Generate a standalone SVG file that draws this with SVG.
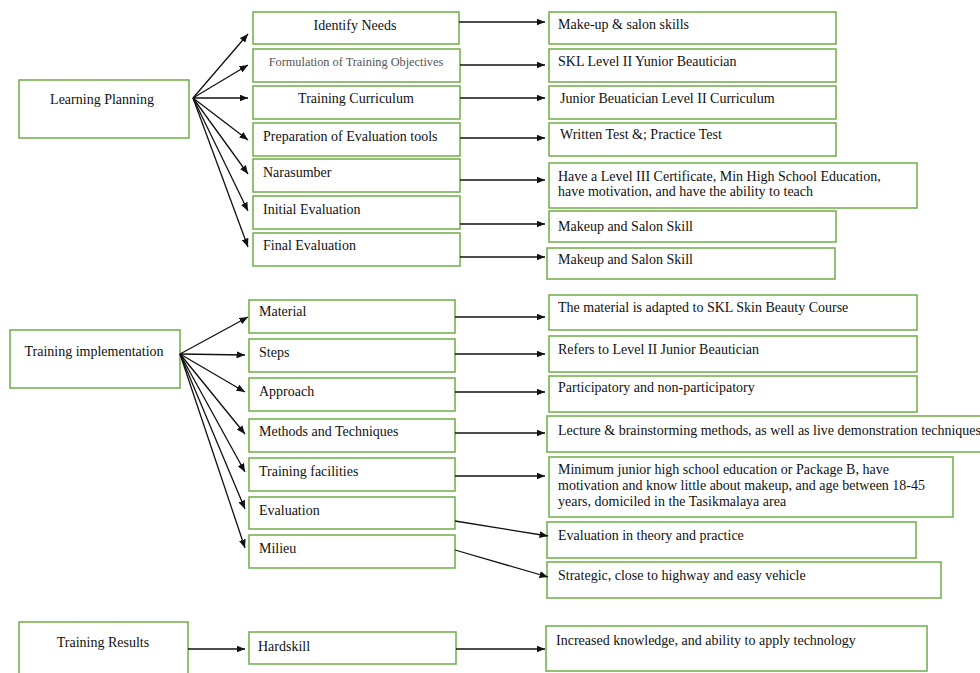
<svg xmlns="http://www.w3.org/2000/svg" width="980" height="673" viewBox="0 0 980 673">
<style>
.box{fill:#fff;stroke:#70AD47;stroke-width:1.5}
.t{font-family:"Liberation Serif","Times New Roman",serif;font-size:14px;fill:#111}
.c{text-anchor:middle}
.small{font-size:12.3px;fill:#555}
.conn line{stroke:#111;stroke-width:1.3;marker-end:url(#ah)}
</style>
<defs>
<marker id="ah" markerUnits="userSpaceOnUse" markerWidth="9" markerHeight="7" refX="8.5" refY="3.5" orient="auto">
<path d="M0,0 L8.5,3.5 L0,7 z" fill="#111"/>
</marker>
</defs>
<rect width="980" height="673" fill="#fff"/>

<!-- Section 1: Learning Planning -->
<g id="learning-planning"><rect class="box" x="19" y="80" width="170" height="58"/><text class="t c" x="102" y="104">Learning Planning</text></g>
<g id="identify-needs"><rect class="box" x="253" y="12" width="206" height="32"/><text class="t c" x="355" y="30">Identify Needs</text></g>
<g id="formulation"><rect class="box" x="253" y="49" width="207" height="33"/><text class="t c small" x="356" y="66">Formulation of Training Objectives</text></g>
<g id="training-curriculum"><rect class="box" x="253" y="86" width="207" height="33"/><text class="t c" x="356" y="103">Training Curriculum</text></g>
<g id="preparation"><rect class="box" x="253" y="123" width="207" height="33"/><text class="t" x="263" y="141">Preparation of Evaluation tools</text></g>
<g id="narasumber"><rect class="box" x="253" y="159" width="207" height="33"/><text class="t" x="263" y="177">Narasumber</text></g>
<g id="initial-evaluation"><rect class="box" x="253" y="196" width="207" height="33"/><text class="t" x="263" y="214">Initial Evaluation</text></g>
<g id="final-evaluation"><rect class="box" x="253" y="233" width="207" height="33"/><text class="t" x="263" y="250">Final Evaluation</text></g>

<g id="makeup-salon-skills"><rect class="box" x="549" y="12" width="287" height="32"/><text class="t" x="558" y="29">Make-up &amp; salon skills</text></g>
<g id="skl-level-ii"><rect class="box" x="549" y="49" width="287" height="33"/><text class="t" x="558" y="66">SKL Level II Yunior Beautician</text></g>
<g id="junior-curriculum"><rect class="box" x="549" y="86" width="287" height="33"/><text class="t" x="560" y="103">Junior Beuatician Level II Curriculum</text></g>
<g id="written-test"><rect class="box" x="549" y="123" width="287" height="33"/><text class="t" x="560" y="139">Written Test &amp;; Practice Test</text></g>
<g id="narasumber-req"><rect class="box" x="549" y="163" width="368" height="45"/><text class="t" x="558" y="181">Have a Level III Certificate, Min High School Education,</text><text class="t" x="558" y="196">have motivation, and have the ability to teach</text></g>
<g id="initial-skill"><rect class="box" x="549" y="211" width="287" height="31"/><text class="t" x="558" y="231">Makeup and Salon Skill</text></g>
<g id="final-skill"><rect class="box" x="547" y="248" width="288" height="31"/><text class="t" x="558" y="264">Makeup and Salon Skill</text></g>

<!-- Section 2: Training implementation -->
<g id="training-implementation"><rect class="box" x="10" y="330" width="170" height="58"/><text class="t c" x="94" y="356">Training implementation</text></g>
<g id="material"><rect class="box" x="249" y="300" width="206" height="33"/><text class="t" x="259" y="316">Material</text></g>
<g id="steps"><rect class="box" x="249" y="339" width="206" height="33"/><text class="t" x="259" y="357">Steps</text></g>
<g id="approach"><rect class="box" x="249" y="378" width="206" height="33"/><text class="t" x="259" y="396">Approach</text></g>
<g id="methods"><rect class="box" x="249" y="419" width="206" height="33"/><text class="t" x="259" y="436">Methods and Techniques</text></g>
<g id="facilities"><rect class="box" x="249" y="458" width="206" height="33"/><text class="t" x="259" y="476">Training facilities</text></g>
<g id="evaluation"><rect class="box" x="249" y="497" width="206" height="32"/><text class="t" x="259" y="515">Evaluation</text></g>
<g id="milieu"><rect class="box" x="249" y="535" width="206" height="33"/><text class="t" x="259" y="553">Milieu</text></g>

<g id="material-desc"><rect class="box" x="549" y="295" width="368" height="35"/><text class="t" x="558" y="312">The material is adapted to SKL Skin Beauty Course</text></g>
<g id="steps-desc"><rect class="box" x="549" y="336" width="368" height="36"/><text class="t" x="558" y="354">Refers to Level II Junior Beautician</text></g>
<g id="approach-desc"><rect class="box" x="549" y="376" width="368" height="36"/><text class="t" x="558" y="392">Participatory and non-participatory</text></g>
<g id="methods-desc"><rect class="box" x="547" y="416" width="440" height="36"/><text class="t" x="558" y="435">Lecture &amp; brainstorming methods, as well as live demonstration techniques</text></g>
<g id="facilities-desc"><rect class="box" x="549" y="457" width="404" height="60"/><text class="t" x="558" y="474">Minimum junior high school education or Package B, have</text><text class="t" x="558" y="490">motivation and know little about makeup, and age between 18-45</text><text class="t" x="558" y="506">years, domiciled in the Tasikmalaya area</text></g>
<g id="evaluation-desc"><rect class="box" x="547" y="522" width="369" height="36"/><text class="t" x="558" y="540">Evaluation in theory and practice</text></g>
<g id="milieu-desc"><rect class="box" x="547" y="562" width="394" height="36"/><text class="t" x="558" y="580">Strategic, close to highway and easy vehicle</text></g>

<!-- Section 3: Training Results -->
<g id="training-results"><rect class="box" x="19" y="622" width="169" height="60"/><text class="t c" x="103" y="647">Training Results</text></g>
<g id="hardskill"><rect class="box" x="249" y="632" width="207" height="32"/><text class="t" x="258" y="651">Hardskill</text></g>
<g id="hardskill-desc"><rect class="box" x="546" y="626" width="381" height="45"/><text class="t" x="556" y="645">Increased knowledge, and ability to apply technology</text></g>

<g id="connectors" class="conn">
<line x1="193" y1="98" x2="248" y2="34"/>
<line x1="193" y1="98" x2="248" y2="65"/>
<line x1="193" y1="98" x2="248" y2="98"/>
<line x1="193" y1="98" x2="248" y2="140"/>
<line x1="193" y1="98" x2="248" y2="174"/>
<line x1="193" y1="98" x2="248" y2="211"/>
<line x1="193" y1="98" x2="248" y2="247"/>
<line x1="459" y1="22" x2="545" y2="22"/>
<line x1="460" y1="65" x2="545" y2="65"/>
<line x1="460" y1="98" x2="545" y2="98"/>
<line x1="460" y1="138" x2="545" y2="138"/>
<line x1="460" y1="180" x2="545" y2="180"/>
<line x1="460" y1="224" x2="545" y2="224"/>
<line x1="460" y1="257" x2="545" y2="257"/>
<line x1="180" y1="354" x2="248" y2="317"/>
<line x1="180" y1="354" x2="245" y2="355"/>
<line x1="180" y1="354" x2="245" y2="392"/>
<line x1="180" y1="354" x2="245" y2="434"/>
<line x1="180" y1="354" x2="245" y2="472"/>
<line x1="180" y1="354" x2="245" y2="509"/>
<line x1="180" y1="354" x2="245" y2="548"/>
<line x1="455" y1="317" x2="545" y2="317"/>
<line x1="455" y1="354" x2="545" y2="354"/>
<line x1="455" y1="392" x2="545" y2="392"/>
<line x1="455" y1="433" x2="545" y2="433"/>
<line x1="455" y1="476" x2="545" y2="476"/>
<line x1="455" y1="521" x2="548" y2="536"/>
<line x1="455" y1="550" x2="548" y2="577"/>
<line x1="188" y1="649" x2="245" y2="649"/>
<line x1="456" y1="649" x2="545" y2="649"/>
</g>
</svg>
